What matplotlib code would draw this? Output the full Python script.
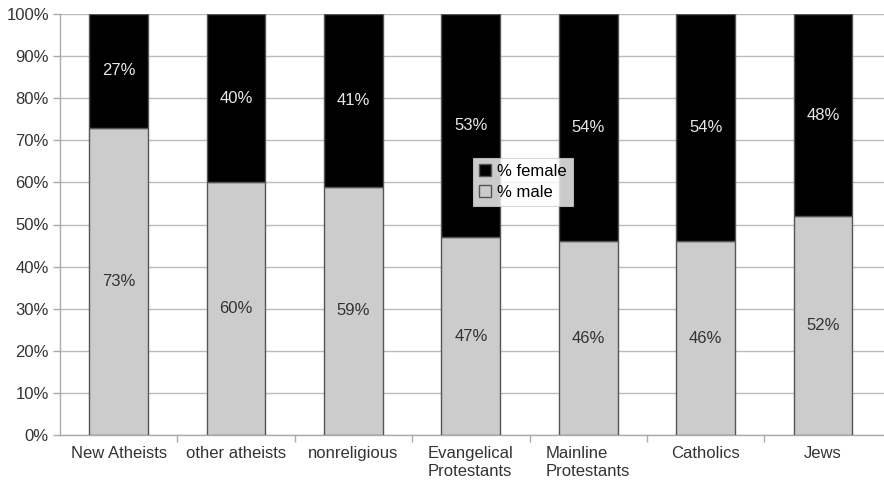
import matplotlib
matplotlib.use("Agg")
import matplotlib.pyplot as plt
from matplotlib.patches import Patch
import numpy as np

categories = ["New Atheists", "other atheists", "nonreligious", "Evangelical\nProtestants",
              "Mainline\nProtestants", "Catholics", "Jews"]
male = [73, 60, 59, 47, 46, 46, 52]
female = [27, 40, 41, 53, 54, 54, 48]

plt.rcParams['font.family'] = ['Liberation Sans', 'DejaVu Sans']

fig = plt.figure(figsize=(8.84, 4.82), dpi=100)
ax = fig.add_axes([60 / 884, 47 / 482, 824 / 884, 421 / 482])

x = np.arange(len(categories))
male_c = "#cccccc"
female_c = "#000000"
edge = "#555555"

ax.bar(x, male, width=0.5, color=male_c, edgecolor=edge, linewidth=1.0, zorder=3)
ax.bar(x, female, width=0.5, bottom=male, color=female_c, edgecolor=edge, linewidth=1.0, zorder=3)

for xi, m, f in zip(x, male, female):
    ax.text(xi, m / 2, f"{m}%", ha="center", va="center", color="#333333", fontsize=12, zorder=4)
    ax.text(xi, m + f / 2, f"{f}%", ha="center", va="center", color="#e8e8e8", fontsize=12, zorder=4)

ax.set_xlim(-0.5, len(categories) - 0.5 + 0.02)
ax.set_ylim(0, 100)
ax.set_yticks(np.arange(0, 101, 10))
ax.set_yticklabels([f"{v}%" for v in range(0, 101, 10)], fontsize=12, color="#333333")
ax.yaxis.grid(True, color="#bbbbbb", linewidth=1.0, zorder=0)

ax.set_xticks(x)
ax.set_xticklabels(categories, fontsize=12, color="#333333", multialignment="left")
ax.set_xticks(np.arange(0.5, len(categories) - 0.5, 1), minor=True)
ax.tick_params(axis="x", which="major", length=0, pad=8)
ax.tick_params(axis="x", which="minor", length=5, color="#aaaaaa", width=1)
ax.tick_params(axis="y", length=5, color="#aaaaaa", width=1, pad=3)

for s in ["top", "right"]:
    ax.spines[s].set_visible(False)
for s in ["left", "bottom"]:
    ax.spines[s].set_color("#aaaaaa")
    ax.spines[s].set_linewidth(1.0)

handles = [Patch(facecolor=female_c, edgecolor=edge, label="% female"),
           Patch(facecolor=male_c, edgecolor=edge, label="% male")]
leg = ax.legend(handles=handles, loc="upper left", bbox_to_anchor=((473 - 60) / 824, (482 - 47 - 158) / 421),
                fontsize=12, frameon=True, fancybox=False, edgecolor="#cccccc",
                handlelength=0.7, handleheight=0.7, handletextpad=0.4, borderpad=0.35,
                labelspacing=0.35, borderaxespad=0)
leg.get_frame().set_linewidth(0.8)
leg.set_zorder(5)

fig.savefig("out.png", dpi=100)
